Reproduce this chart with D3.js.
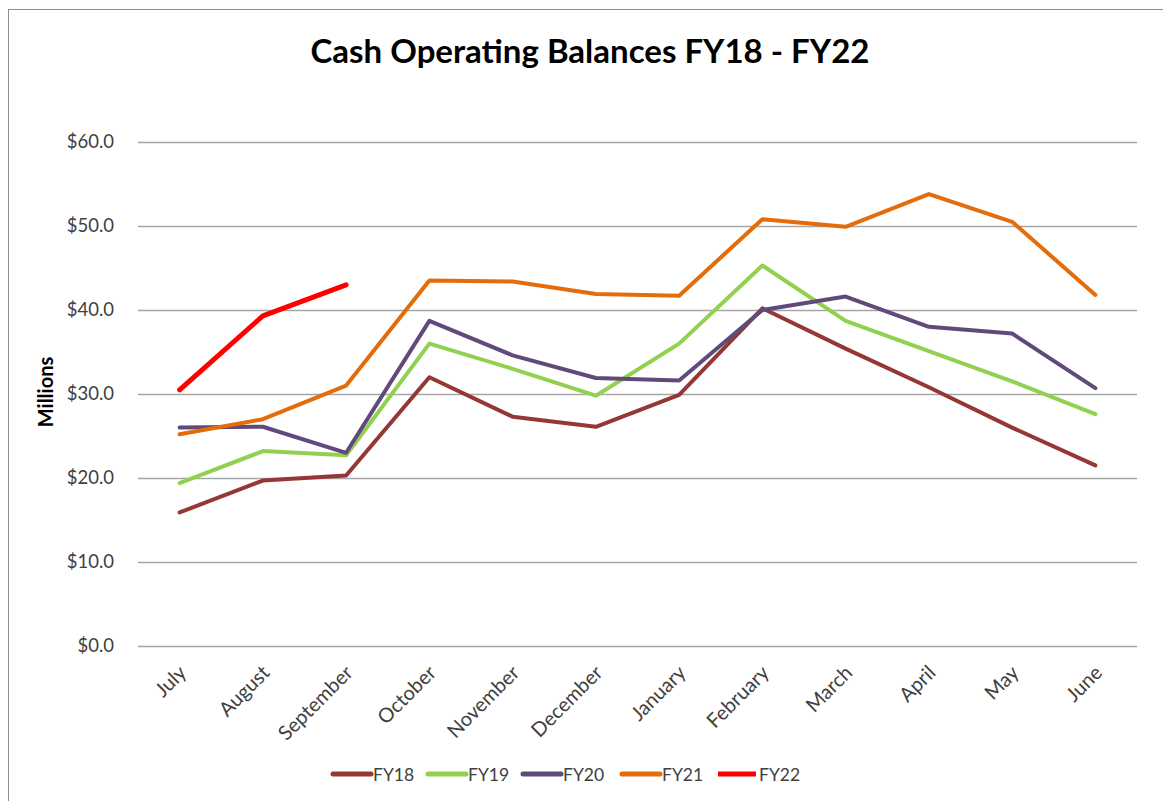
<!DOCTYPE html>
<html>
<head>
<meta charset="utf-8">
<script src="https://cdn.jsdelivr.net/npm/d3@7"></script>
<style>
  html, body { margin: 0; padding: 0; background: #fff; }
  svg { display: block; font-family: Lato, "Open Sans", sans-serif; }
</style>
</head>
<body>
<div id="chart"></div>
<script>
const months = ['July', 'August', 'September', 'October', 'November', 'December',
                'January', 'February', 'March', 'April', 'May', 'June'];

const fy18 = [15.9, 19.7, 20.3, 32.0, 27.3, 26.1, 29.9, 40.2, 35.4, 30.8, 26.0, 21.5];
const fy19 = [19.4, 23.2, 22.7, 36.0, 33.0, 29.8, 36.0, 45.3, 38.7, 35.1, 31.5, 27.6];
const fy20 = [26.0, 26.1, 23.0, 38.7, 34.6, 31.9, 31.6, 40.0, 41.6, 38.0, 37.2, 30.7];
const fy21 = [25.2, 27.0, 31.0, 43.5, 43.4, 41.9, 41.7, 50.8, 49.9, 53.8, 50.5, 41.8];
const fy22 = [30.5, 39.3, 43.0];

const seriesNames = ['FY18', 'FY19', 'FY20', 'FY21', 'FY22'];
const yTicks = [0, 10, 20, 30, 40, 50, 60];

const COLORS = { FY18: '#953735', FY19: '#92D050', FY20: '#604A7B', FY21: '#E46C0A', FY22: '#FF0000' };

const series = [fy18, fy19, fy20, fy21, fy22].map((vals, i) => ({ name: seriesNames[i], vals }));

const W = 1163, H = 801;
const plot = { left: 138, right: 1137, top: 142, bottom: 646 };

const svg = d3.select('#chart').append('svg').attr('width', W).attr('height', H);

// chart frame (right and bottom edges fall outside the picture)
svg.append('rect')
  .attr('x', 8.5).attr('y', 9.5).attr('width', W + 10).attr('height', H + 10)
  .attr('fill', '#fff').attr('stroke', '#8c8c8c').attr('stroke-width', 1);

const x = d3.scaleBand().domain(months).range([plot.left, plot.right]);
const y = d3.scaleLinear().domain([0, 60]).range([plot.bottom, plot.top]);
const cx = m => x(m) + x.bandwidth() / 2;

// title
svg.append('text')
  .attr('x', 590).attr('y', 63)
  .attr('text-anchor', 'middle')
  .attr('font-size', 33).attr('font-weight', 'bold').attr('fill', '#000')
  .text('Cash Operating Balances FY18 - FY22');

// gridlines + y labels
const yAxis = svg.append('g')
  .attr('transform', `translate(${plot.left},0)`)
  .call(d3.axisLeft(y).tickValues(yTicks)
    .tickSize(-(plot.right - plot.left)).tickPadding(24)
    .tickFormat(d => '$' + d.toFixed(1)));
yAxis.select('.domain').remove();
yAxis.selectAll('.tick line').attr('stroke', '#a6a6a6').attr('stroke-width', 1.5);
yAxis.selectAll('.tick text')
  .attr('font-size', 18.5).attr('fill', '#404040')
  .attr('font-family', 'Lato, "Open Sans", sans-serif');

// y title
svg.append('text')
  .attr('transform', 'translate(53,392) rotate(-90)')
  .attr('text-anchor', 'middle')
  .attr('font-size', 20).attr('font-weight', 'bold').attr('fill', '#000')
  .text('Millions');

// x labels
const xAxis = svg.append('g')
  .attr('transform', `translate(0,${plot.bottom})`)
  .call(d3.axisBottom(x).tickSize(0).tickPadding(0));
xAxis.select('.domain').remove();
xAxis.selectAll('.tick text')
  .attr('font-size', 20).attr('fill', '#404040')
  .attr('font-family', 'Lato, "Open Sans", sans-serif')
  .attr('text-anchor', 'end')
  .attr('dy', 0)
  .attr('transform', 'translate(8,28) rotate(-45)');

// lines
const line = d3.line()
  .x((d, i) => cx(months[i]))
  .y(d => y(d));

svg.append('g').selectAll('path')
  .data(series)
  .join('path')
  .attr('d', d => line(d.vals))
  .attr('fill', 'none')
  .attr('stroke', d => COLORS[d.name])
  .attr('stroke-width', d => d.name === 'FY22' ? 5 : 4)
  .attr('stroke-linejoin', 'round')
  .attr('stroke-linecap', 'round');

// legend
const legendX = [333, 428, 523, 622, 718];
const legend = svg.append('g').attr('transform', 'translate(0,774)');
series.forEach((s, i) => {
  const g = legend.append('g').attr('transform', `translate(${legendX[i]},0)`);
  g.append('line')
    .attr('x1', 0).attr('x2', 38).attr('y1', 0).attr('y2', 0)
    .attr('stroke', COLORS[s.name]).attr('stroke-width', 5)
    .attr('stroke-linecap', s.name === 'FY22' ? 'butt' : 'round');
  g.append('text')
    .attr('x', s.name === 'FY22' ? 41 : 40).attr('y', 6.5)
    .attr('font-size', 17.5).attr('fill', '#404040')
    .text(s.name);
});
</script>
</body>
</html>
